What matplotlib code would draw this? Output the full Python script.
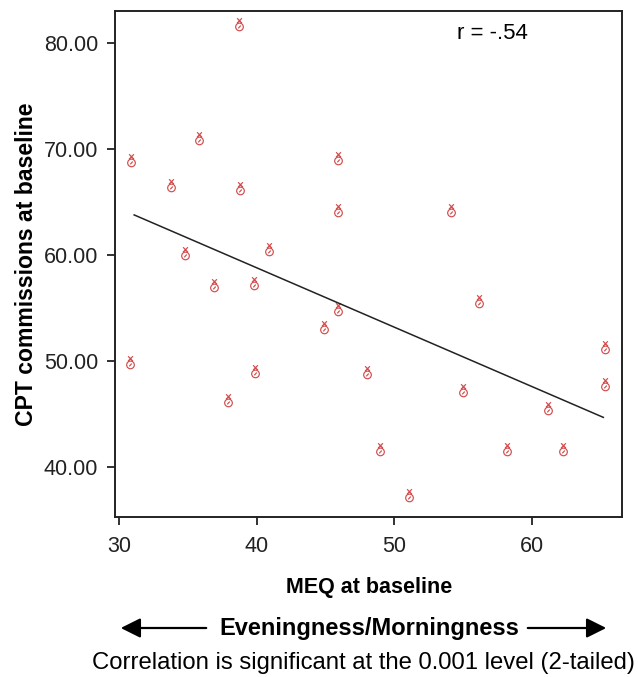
import numpy as np
import matplotlib
matplotlib.use('Agg')
import matplotlib.pyplot as plt
from matplotlib.path import Path

plt.rcParams['font.family'] = ['Liberation Sans', 'DejaVu Sans']

# MEQ score at baseline vs CPT commissions at baseline
meq = [38.7, 35.8, 30.9, 33.8, 38.8, 34.8, 40.9,
       45.9, 45.9, 54.1,
       36.9, 39.8, 30.8, 39.9, 37.9,
       45.9, 44.9, 48.0, 49.0, 51.1, 55.0,
       56.2, 65.3, 65.3, 61.2, 58.2, 62.3]
cpt = [81.8, 71.0, 68.9, 66.6, 66.3, 60.2, 60.5,
       69.1, 64.2, 64.2,
       57.1, 57.3, 49.9, 49.0, 46.3,
       54.9, 53.2, 48.9, 41.7, 37.3, 47.2,
       55.6, 51.3, 47.8, 45.5, 41.7, 41.7]

# fit line end points
fit_x = [31.1, 65.2]
fit_y = [63.75, 44.65]

xticks = [30, 40, 50, 60]
yticks = [40, 50, 60, 70, 80]

# little "bunny" glyph used as the point marker
circ = Path.circle(center=(0, -0.35), radius=0.55)
ears = Path([(-0.35, 0.2), (0.35, 0.9), (0.35, 0.2), (-0.35, 0.9),
             (-0.18, -0.55), (0.18, -0.15)],
            [Path.MOVETO, Path.LINETO, Path.MOVETO, Path.LINETO,
             Path.MOVETO, Path.LINETO])
bunny = Path.make_compound_path(circ, ears)

fig = plt.figure(figsize=(6.38, 6.77), dpi=100)
ax = fig.add_axes([0.1803, 0.2368, 0.7951, 0.747])

ax.plot(meq, cpt, linestyle='none', marker=bunny, markersize=9,
        markerfacecolor='none', markeredgecolor='#d24c4c', markeredgewidth=0.85)
ax.plot(fit_x, fit_y, color='#222222', lw=1.1)

ax.set_xlim(29.71, 66.58)
ax.set_ylim(35.28, 82.99)
ax.set_xticks(xticks)
ax.set_yticks(yticks)
ax.set_yticklabels(['%.2f' % v for v in yticks])
ax.tick_params(labelsize=15.5, length=6, width=1.3, pad=6, colors='#222222')
ax.tick_params(axis='x', pad=8)
for s in ax.spines.values():
    s.set_linewidth(1.4)
    s.set_color('#222222')

ax.set_xlabel('MEQ at baseline', fontsize=15.5, fontweight='bold', labelpad=14)
ax.set_ylabel('CPT commissions at baseline', fontsize=16.6, fontweight='bold', labelpad=4)

ax.text(0.675, 0.955, 'r = -.54', transform=ax.transAxes, fontsize=16,
        ha='left', va='center')

# bottom annotation
fig.text(369 / 638, 1 - 629 / 677, 'Eveningness/Morningness', fontsize=17,
         fontweight='bold', ha='center', va='center')
ay = 1 - 628 / 677
ax.annotate('', xy=(118 / 638, ay), xytext=(209 / 638, ay),
            xycoords='figure fraction', textcoords='figure fraction',
            arrowprops=dict(arrowstyle='-|>', mutation_scale=30, lw=1.6, color='black'))
ax.annotate('', xy=(609 / 638, ay), xytext=(525 / 638, ay),
            xycoords='figure fraction', textcoords='figure fraction',
            arrowprops=dict(arrowstyle='-|>', mutation_scale=30, lw=1.6, color='black'))
fig.text(363 / 638, 1 - 663 / 677,
         'Correlation is significant at the 0.001 level (2-tailed)',
         fontsize=17.2, ha='center', va='center')

plt.savefig('out.png', dpi=100)
